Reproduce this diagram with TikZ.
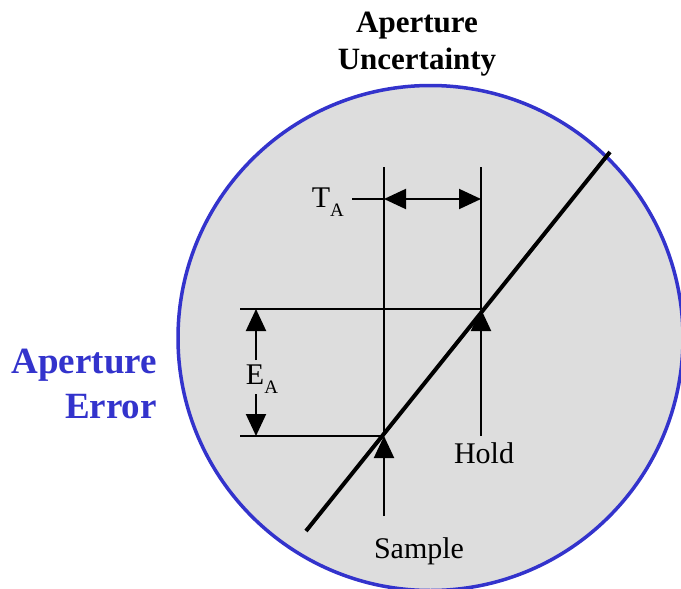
\documentclass[tikz,border=0pt]{standalone}
\usepackage{fontspec}
\setmainfont{Liberation Serif}
\usetikzlibrary{arrows.meta}
\definecolor{ringblue}{RGB}{51,51,204}
\definecolor{diskgray}{RGB}{221,221,221}
\newcommand{\subA}{\raisebox{-9pt}{\fontsize{19}{19}\selectfont A}}
\begin{document}
\begin{tikzpicture}[
    x=1pt, y=-1pt,
    rule/.style={line width=2pt},
    tip/.style={rule, -{Triangle[length=22pt,width=20pt]}},
    lbl/.style={font=\fontsize{30}{30}\selectfont, inner sep=0pt},
    title/.style={font=\fontsize{31}{31}\selectfont\bfseries, inner sep=0pt, anchor=base},
    side/.style={font=\fontsize{37}{37}\selectfont\bfseries, text=ringblue, inner sep=0pt, anchor=base east}
]
    \useasboundingbox (0,0) rectangle (681,589);
    \draw[fill=diskgray, draw=ringblue, line width=3.5pt] (430.5,338) circle (252.5pt);

    % titles
    \node[title] (ttlA) at (417,32) {Aperture};
    \node[title] (ttlB) at (417,69) {Uncertainty};
    \node[side] (errA) at (157,373) {Aperture};
    \node[side] (errB) at (157,418) {Error};

    % points
    \coordinate (smpTop) at (384,167);
    \coordinate (smpBot) at (384,516);
    \coordinate (hldTop) at (481,167);
    \coordinate (hldBot) at (481,436);
    \coordinate (smpHit) at (384,436);
    \coordinate (hldHit) at (481,309);
    \coordinate (taEnd) at (352,199);
    \coordinate (taL) at (384,199);
    \coordinate (taR) at (481,199);
    \coordinate (eaTop) at (256,309);
    \coordinate (eaBot) at (256,436);
    \coordinate (hiEnd) at (240,309);
    \coordinate (loEnd) at (240,436);
    \coordinate (rampLo) at (306,531);
    \coordinate (rampHi) at (610,152);

    % labels
    \node[lbl, anchor=base east] (ta) at (344,207) {T\subA};
    \node[lbl, anchor=base] (ea) at (262,384) {E\subA};
    \node[lbl, anchor=base] (hold) at (484,463) {Hold};
    \node[lbl, anchor=base] (sample) at (419,558) {Sample};

    % grid lines
    \draw[rule] (smpTop) -- (smpHit);
    \draw[rule] (hldTop) -- (hldHit);
    \draw[rule] (hiEnd) -- (hldHit);
    \draw[rule] (loEnd) -- (smpHit);
    \draw[rule] (taEnd) -- (taL);

    % arrows
    \draw[tip] (smpBot) -- (smpHit);
    \draw[tip] (hldBot) -- (hldHit);
    \draw[tip, {Triangle[length=22pt,width=20pt]}-{Triangle[length=22pt,width=20pt]}] (taL) -- (taR);
    \draw[tip] (256,360) -- (eaTop);
    \draw[tip] (256,394) -- (eaBot);

    % ramp
    \draw[line width=4pt] (rampLo) -- (rampHi);
\end{tikzpicture}
\end{document}
